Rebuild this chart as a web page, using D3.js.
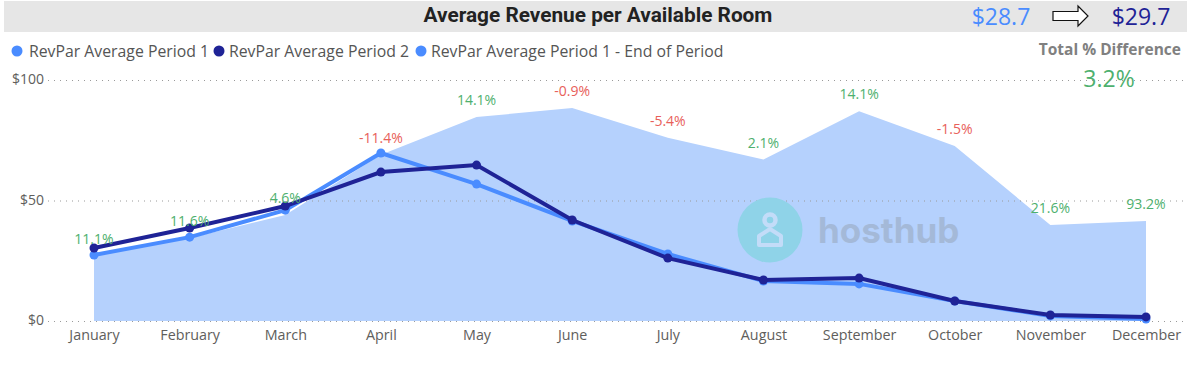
<!DOCTYPE html>
<html>
<head>
<meta charset="utf-8">
<script src="https://cdn.jsdelivr.net/npm/d3@7"></script>
<style>
	html, body { margin: 0; padding: 0; background: #fff; overflow: hidden; }
	text { font-family: "Open Sans", "Noto Sans", sans-serif; }
	.title { font-family: Roboto, sans-serif; font-weight: 700; }
</style>
</head>
<body>
<div id="chart"></div>
<script>
const months = ['January', 'February', 'March', 'April', 'May', 'June', 'July', 'August', 'September', 'October', 'November', 'December'];
const period1 = [27.4, 34.8, 46, 69.7, 56.8, 41.5, 27.8, 16.6, 15.4, 8.3, 2.1, 0.8];
const period2 = [30.3, 38.6, 47.7, 61.8, 64.7, 41.9, 26.1, 17, 17.8, 8.3, 2.5, 1.7];
const endOfPeriod = [27, 34.4, 44, 69, 84.6, 88.4, 76, 67, 87, 72.6, 39.8, 41.5];
const diffLabels = ['11.1%', '11.6%', '4.6%', '-11.4%', '14.1%', '-0.9%', '-5.4%', '2.1%', '14.1%', '-1.5%', '21.6%', '93.2%'];
const yTicks = [0, 50, 100];
const legendNames = ['RevPar Average Period 1', 'RevPar Average Period 2', 'RevPar Average Period 1 - End of Period'];

const width = 1187;
const height = 365;
const blue = '#4a8cff';
const navy = '#1f2396';
const green = '#4eb06e';
const red = '#e8605a';

const scaleX = d3.scalePoint().domain(months).range([94, 1146]);
const scaleY = d3.scaleLinear().domain([0, 100]).range([321, 80]);

const $svg = d3.select('#chart').append('svg').attr('width', width).attr('height', height);

// header band
$svg.append('rect').attr('x', 4).attr('y', 1).attr('width', width - 4).attr('height', 31).attr('fill', '#e6e6e6');
$svg.append('text').attr('class', 'title').attr('x', 598).attr('y', 22)
	.attr('text-anchor', 'middle').attr('font-size', 20.8).attr('fill', '#222')
	.text('Average Revenue per Available Room');

// totals
$svg.append('text').attr('x', 1001).attr('y', 25).attr('text-anchor', 'middle')
	.attr('font-size', 23).attr('fill', blue).text('$28.7');
$svg.append('text').attr('x', 1141).attr('y', 25).attr('text-anchor', 'middle')
	.attr('font-size', 23).attr('fill', navy).text('$29.7');
$svg.append('path')
	.attr('d', 'M1053,11.5H1078V6L1088,16L1078,26V20.5H1053Z')
	.attr('fill', '#fff').attr('stroke', '#111').attr('stroke-width', 1.2);
$svg.append('text').attr('x', 1181).attr('y', 55).attr('text-anchor', 'end')
	.attr('font-size', 15.5).attr('font-weight', 700).attr('fill', '#808080').text('Total % Difference');
$svg.append('text').attr('x', 1109).attr('y', 87).attr('text-anchor', 'middle')
	.attr('font-size', 23).attr('fill', green).text('3.2%');

// legend
const legendX = [[17, 29], [219, 229], [421, 431]];
const legendColors = [blue, navy, blue];
legendNames.forEach((name, i) => {
	$svg.append('circle').attr('cx', legendX[i][0]).attr('cy', 51).attr('r', 5.5).attr('fill', legendColors[i]);
	$svg.append('text').attr('x', legendX[i][1]).attr('y', 57)
		.attr('font-size', 15.8).attr('fill', '#555').text(name);
});

// area
$svg.append('path').datum(endOfPeriod)
	.attr('fill', '#b5d1fd')
	.attr('d', d3.area().x((d, i) => scaleX(months[i])).y0(scaleY(0)).y1(d => scaleY(d)));

// grid and y axis
const $yAxis = $svg.append('g').attr('transform', 'translate(48,0)')
	.call(d3.axisLeft(scaleY).tickValues(yTicks).tickSize(-1137).tickPadding(4).tickFormat(d => `$${d}`));
$yAxis.select('.domain').remove();
$yAxis.selectAll('line').attr('stroke', '#9a9a9a').attr('stroke-dasharray', '1 5');
$yAxis.selectAll('text').attr('font-size', 14).attr('fill', '#605e5c').attr('dy', '0.28em');

// x axis
const $xAxis = $svg.append('g').attr('transform', 'translate(0,321)')
	.call(d3.axisBottom(scaleX).tickSize(0).tickPadding(9));
$xAxis.select('.domain').remove();
$xAxis.selectAll('text').attr('font-size', 14.3).attr('fill', '#605e5c');

// watermark
const $logo = $svg.append('g').attr('transform', 'translate(770,230)');
$logo.append('circle').attr('r', 32.5).attr('fill', '#8fd3e8');
$logo.append('circle').attr('cy', -10).attr('r', 5.5).attr('fill', 'none').attr('stroke', '#c3dcf8').attr('stroke-width', 4.5);
$logo.append('path').attr('d', 'M-11,15V6L0,-1L11,6V15Z').attr('fill', 'none')
	.attr('stroke', '#c3dcf8').attr('stroke-width', 4).attr('stroke-linejoin', 'round');
$svg.append('text').attr('x', 818).attr('y', 243)
	.style('font-family', 'Inter, sans-serif').attr('font-weight', 700)
	.attr('font-size', 35).attr('fill', '#a4b9d8').text('hosthub');

// lines
const line = d3.line().x((d, i) => scaleX(months[i])).y(d => scaleY(d));
[[period1, blue], [period2, navy]].forEach(([values, color]) => {
	$svg.append('path').datum(values).attr('fill', 'none')
		.attr('stroke', color).attr('stroke-width', 4).attr('d', line);
	$svg.append('g').selectAll('circle').data(values).join('circle')
		.attr('cx', (d, i) => scaleX(months[i])).attr('cy', d => scaleY(d))
		.attr('r', 4.5).attr('fill', color);
});

// % labels sit above the area
$svg.append('g').selectAll('text').data(diffLabels).join('text')
	.attr('x', (d, i) => scaleX(months[i]))
	.attr('y', (d, i) => scaleY(endOfPeriod[i]) - 12)
	.attr('text-anchor', 'middle').attr('font-size', 14)
	.attr('fill', d => d.startsWith('-') ? red : green)
	.text(d => d);
</script>
</body>
</html>
